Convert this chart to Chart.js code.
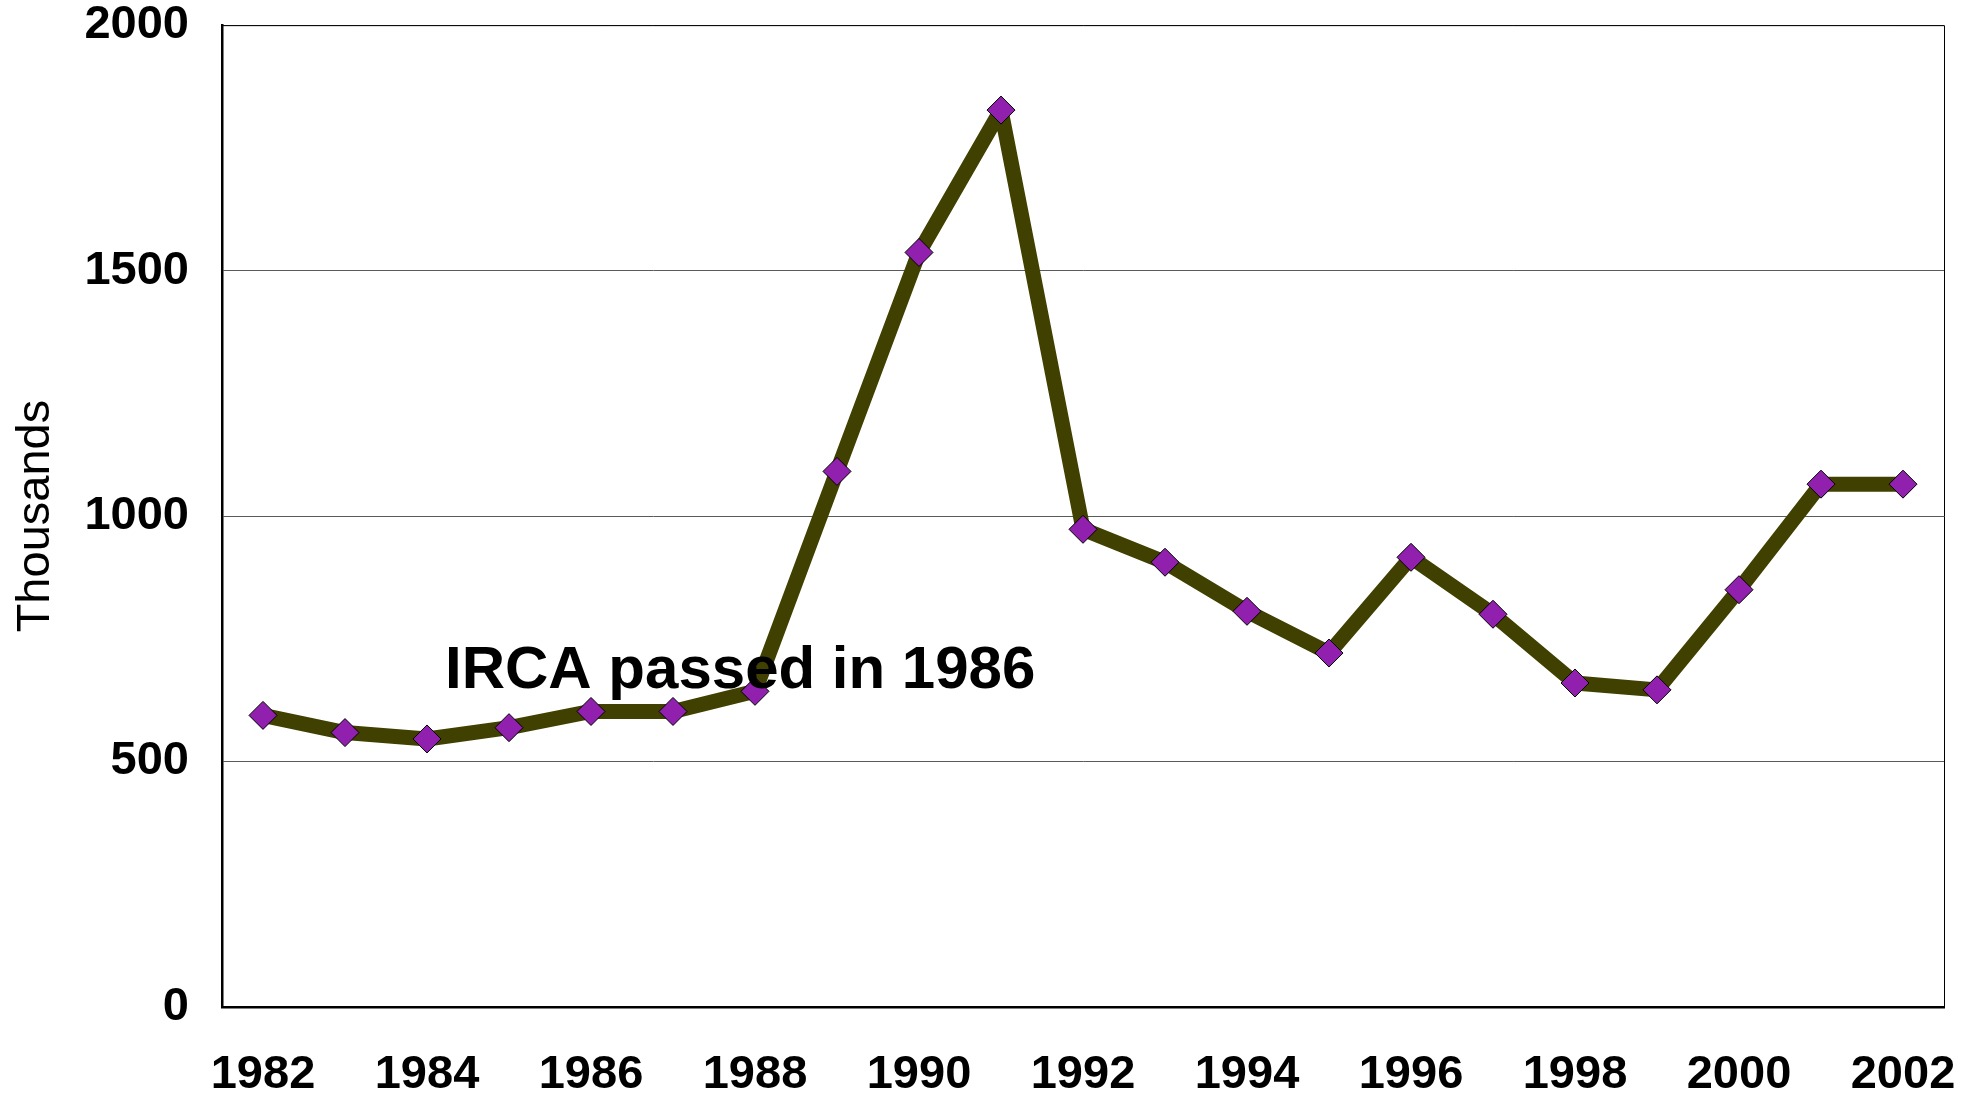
<!DOCTYPE html>
<html>
<head>
<meta charset="utf-8">
<title>Thousands by year</title>
<script src="https://cdn.jsdelivr.net/npm/chart.js@4/dist/chart.umd.min.js"></script>
<style>
  html, body { margin: 0; padding: 0; background: #fff; }
  canvas { display: block; }
</style>
</head>
<body>
<canvas id="chart" width="1981" height="1095"></canvas>
<script>
// Years along the x axis (only even years get a label)
const years = [1982, 1983, 1984, 1985, 1986, 1987, 1988, 1989, 1990, 1991, 1992,
               1993, 1994, 1995, 1996, 1997, 1998, 1999, 2000, 2001, 2002]

// Values in thousands
const thousands = [594, 559, 546, 569, 602, 602, 643, 1091, 1537, 1827, 973,
                   906, 806, 721, 916, 800, 660, 646, 850, 1065, 1065]

const yTicks = [0, 500, 1000, 1500, 2000]

// Note placed on the chart, anchored in data units
const noteText = "IRCA passed in 1986"
const noteAt = { index: 2.22, value: 650 }

const FONT = "'Liberation Sans', Arial, Helvetica, sans-serif"

// Draws the frame around the plot and the text note
const framePlugin = {
  id: 'frame',
  afterDraw(chart) {
    const { ctx, chartArea, scales } = chart
    ctx.save()
    ctx.strokeStyle = '#000'
    ctx.lineWidth = 1
    ctx.beginPath()
    ctx.moveTo(chartArea.left, chartArea.top + 0.5)
    ctx.lineTo(chartArea.right + 0.5, chartArea.top + 0.5)
    ctx.lineTo(chartArea.right + 0.5, chartArea.bottom)
    ctx.stroke()

    const x = scales.x.getPixelForValue(noteAt.index)
    const y = scales.y.getPixelForValue(noteAt.value)
    ctx.fillStyle = '#000'
    ctx.font = `bold 60px ${FONT}`
    ctx.textAlign = 'left'
    ctx.textBaseline = 'alphabetic'
    ctx.fillText(noteText, x, y)
    ctx.restore()
  }
}

new Chart(document.getElementById('chart'), {
  type: 'line',
  data: {
    labels: years,
    datasets: [{
      data: thousands,
      borderColor: '#404000',
      borderWidth: 15,
      borderJoinStyle: 'round',
      tension: 0,
      pointStyle: 'rectRot',
      pointRadius: 14,
      pointHoverRadius: 14,
      pointBackgroundColor: '#9220AE',
      pointBorderColor: '#000',
      pointBorderWidth: 1
    }]
  },
  options: {
    responsive: false,
    animation: false,
    events: [],
    layout: { padding: { top: 25, right: 37, left: 0, bottom: 0 } },
    plugins: {
      legend: { display: false },
      tooltip: { enabled: false }
    },
    scales: {
      x: {
        type: 'category',
        offset: true,
        // ticks are not drawn, the tick length only spaces the labels
        grid: { display: false, drawTicks: true, tickLength: 40 },
        border: { color: '#000', width: 2.5 },
        ticks: {
          autoSkip: false,
          maxRotation: 0,
          padding: 0,
          color: '#000',
          font: { family: FONT, size: 47, weight: 'bold' },
          callback: (val, i) => (years[i] % 2 === 0 ? String(years[i]) : '')
        },
        afterFit: (scale) => { scale.height = 88 }
      },
      y: {
        min: 0,
        max: 2000,
        afterBuildTicks: (scale) => { scale.ticks = yTicks.map(v => ({ value: v })) },
        grid: { color: '#5a5a5a', lineWidth: 1, drawTicks: true, tickLength: 33, tickColor: 'rgba(0,0,0,0)' },
        border: { color: '#000', width: 2.5 },
        ticks: {
          padding: 0,
          color: '#000',
          font: { family: FONT, size: 47, weight: 'bold', lineHeight: 1.07 },
          callback: (val) => String(val)
        },
        title: {
          display: true,
          text: 'Thousands',
          color: '#000',
          padding: { top: 8, bottom: 0 },
          font: { family: FONT, size: 47, weight: 'normal' }
        },
        afterFit: (scale) => { scale.width = 222 }
      }
    }
  },
  plugins: [framePlugin]
})
</script>
</body>
</html>
